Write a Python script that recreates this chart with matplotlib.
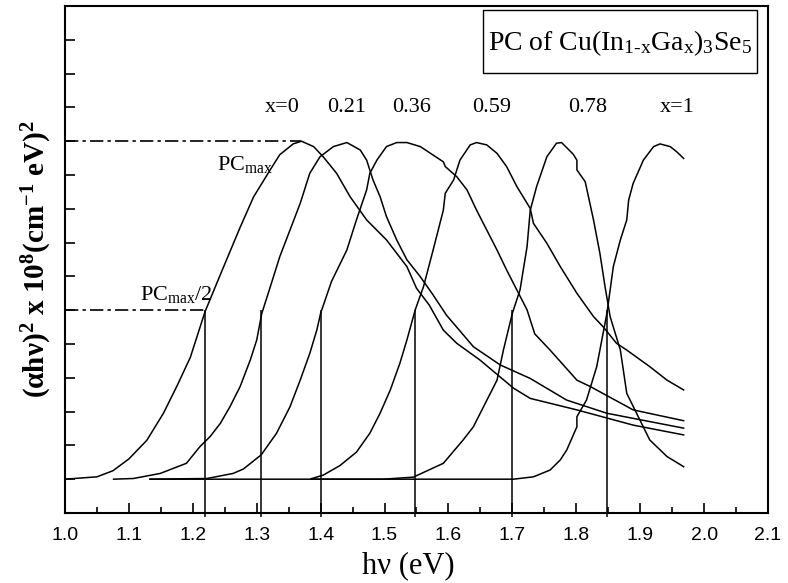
import matplotlib
matplotlib.use('Agg')
import matplotlib.pyplot as plt
from matplotlib.patches import Rectangle
from matplotlib.ticker import MultipleLocator, FormatStrFormatter

# photoconductivity spectra
hv_0 = [1.000, 1.050, 1.075, 1.100, 1.128, 1.154, 1.175, 1.196, 1.219, 1.243, 1.274, 1.295,
        1.321, 1.336, 1.357, 1.370, 1.389, 1.404, 1.425, 1.446, 1.472, 1.503, 1.535, 1.550,
        1.570, 1.592, 1.613, 1.649, 1.702, 1.728, 1.801, 1.889, 1.968]
pc_0 = [1.00, 1.07, 1.25, 1.60, 2.15, 2.95, 3.75, 4.60, 5.95, 7.05, 8.45, 9.35,
        10.15, 10.60, 10.92, 11.00, 10.84, 10.54, 10.05, 9.36, 8.67, 8.08, 7.29, 6.65,
        6.15, 5.41, 5.02, 4.53, 3.69, 3.39, 3.05, 2.60, 2.31]

hv_21 = [1.076, 1.107, 1.149, 1.190, 1.211, 1.227, 1.243, 1.258, 1.274, 1.290, 1.300, 1.308,
         1.318, 1.336, 1.352, 1.368, 1.383, 1.399, 1.420, 1.441, 1.462, 1.472, 1.482, 1.493,
         1.503, 1.519, 1.535, 1.556, 1.576, 1.597, 1.639, 1.681, 1.728, 1.785, 1.848, 1.968]
pc_21 = [1.00, 1.02, 1.17, 1.47, 1.96, 2.26, 2.65, 3.14, 3.74, 4.53, 5.12, 5.91,
         6.50, 7.58, 8.37, 9.16, 10.05, 10.54, 10.84, 10.96, 10.74, 10.44, 9.85, 9.36,
         8.77, 8.08, 7.49, 6.99, 6.45, 5.85, 4.92, 4.38, 3.98, 3.34, 2.95, 2.51]

hv_36 = [1.133, 1.222, 1.263, 1.279, 1.307, 1.331, 1.352, 1.368, 1.383, 1.394, 1.400, 1.417,
         1.441, 1.456, 1.472, 1.477, 1.488, 1.503, 1.519, 1.535, 1.556, 1.576, 1.592, 1.595,
         1.613, 1.629, 1.644, 1.660, 1.676, 1.691, 1.707, 1.723, 1.735, 1.759, 1.801, 1.822,
         1.889, 1.968]
pc_36 = [1.00, 1.02, 1.17, 1.30, 1.72, 2.36, 3.14, 3.93, 4.72, 5.41, 5.91, 6.85,
         7.78, 8.67, 9.56, 10.05, 10.44, 10.84, 10.96, 10.96, 10.84, 10.59, 10.39, 10.25,
         9.95, 9.56, 8.96, 8.37, 7.78, 7.19, 6.60, 6.01, 5.30, 4.82, 3.93, 3.74,
         3.05, 2.73]

hv_59 = [1.133, 1.383, 1.404, 1.430, 1.456, 1.477, 1.493, 1.509, 1.524, 1.535, 1.548, 1.561,
         1.576, 1.592, 1.595, 1.608, 1.618, 1.634, 1.644, 1.660, 1.676, 1.691, 1.707, 1.728,
         1.733, 1.754, 1.775, 1.801, 1.827, 1.842, 1.863, 1.879, 1.915, 1.942, 1.968]
pc_59 = [1.00, 1.00, 1.12, 1.40, 1.80, 2.36, 2.95, 3.64, 4.43, 5.12, 6.01, 6.70,
         7.78, 8.96, 9.46, 9.85, 10.44, 10.89, 10.96, 10.89, 10.64, 10.25, 9.66, 9.01,
         8.57, 7.98, 7.29, 6.50, 5.81, 5.51, 5.02, 4.82, 4.33, 3.93, 3.64]

hv_78 = [1.385, 1.498, 1.545, 1.592, 1.623, 1.639, 1.676, 1.686, 1.700, 1.712, 1.723, 1.728,
         1.738, 1.754, 1.769, 1.777, 1.795, 1.801, 1.801, 1.814, 1.827, 1.837, 1.845, 1.853,
         1.869, 1.879, 1.915, 1.942, 1.968]
pc_78 = [1.00, 1.00, 1.06, 1.47, 2.16, 2.55, 3.93, 4.82, 5.91, 6.60, 7.88, 8.96,
         9.66, 10.54, 10.94, 10.96, 10.62, 10.44, 10.15, 9.80, 8.67, 7.68, 6.70, 5.81,
         4.82, 3.54, 2.16, 1.67, 1.37]

hv_100 = [1.385, 1.702, 1.733, 1.759, 1.775, 1.785, 1.801, 1.801, 1.816, 1.832, 1.848, 1.858,
          1.869, 1.879, 1.882, 1.889, 1.905, 1.921, 1.931, 1.947, 1.957, 1.968]
pc_100 = [1.00, 1.00, 1.07, 1.27, 1.57, 1.86, 2.55, 2.85, 3.34, 4.33, 5.91, 7.29,
          8.08, 8.67, 9.26, 9.75, 10.44, 10.84, 10.92, 10.84, 10.69, 10.49]

comp_labels = ['x=0', '0.21', '0.36', '0.59', '0.78', 'x=1']
label_hv = [1.340, 1.441, 1.543, 1.667, 1.818, 1.958]
label_y = 12.0

# half-maximum energies (band gaps)
half_hv = [1.219, 1.307, 1.400, 1.548, 1.700, 1.848]
pc_max = 11.0
pc_half = 6.0
peak_hv_0 = 1.370

plt.rcParams['mathtext.fontset'] = 'custom'
plt.rcParams['mathtext.rm'] = 'Liberation Serif'
plt.rcParams['mathtext.it'] = 'Liberation Serif:italic'
plt.rcParams['mathtext.bf'] = 'Liberation Serif:bold'
plt.rcParams['axes.linewidth'] = 1.5

fig = plt.figure(figsize=(7.88, 5.83), dpi=100)
ax = fig.add_axes([0.0825, 0.1201, 0.8921, 0.8696])

for hv, pc in [(hv_0, pc_0), (hv_21, pc_21), (hv_36, pc_36),
               (hv_59, pc_59), (hv_78, pc_78), (hv_100, pc_100)]:
    ax.plot(hv, pc, color='black', lw=1.1)

dashdot = (0, (8, 2.5, 2, 2.5))
ax.plot([1.0, peak_hv_0], [pc_max, pc_max], color='black', lw=1.2, ls=dashdot)
ax.plot([1.0, half_hv[0]], [pc_half, pc_half], color='black', lw=1.2, ls=dashdot)
ax.vlines(half_hv, -0.12, pc_half, color='black', lw=1.1, clip_on=False)

for lab, x in zip(comp_labels, label_hv):
    ax.text(x, label_y, lab, ha='center', va='center', fontsize=16,
            family='Liberation Serif')

ax.text(1.117, 6.3, r'PC$_{\mathrm{max}}$/2', fontsize=16, family='Liberation Serif')
ax.text(1.238, 10.15, r'PC$_{\mathrm{max}}$', fontsize=16, family='Liberation Serif')

# title box
ax.add_patch(Rectangle((0.5946, 0.868), 0.390, 0.124, transform=ax.transAxes,
                       facecolor='white', edgecolor='black', lw=1.0))
ax.text(0.789, 0.927, r'PC of Cu(In$_{\text{1-x}}$Ga$_{\mathrm{x}}$)$_{\mathrm{3}}$Se$_{\mathrm{5}}$',
        transform=ax.transAxes, ha='center', va='center', fontsize=20,
        family='Liberation Serif')

ax.set_xlim(1.0, 2.1)
ax.set_ylim(0, 15)
ax.xaxis.set_major_locator(MultipleLocator(0.1))
ax.xaxis.set_minor_locator(MultipleLocator(0.05))
ax.xaxis.set_major_formatter(FormatStrFormatter('%.1f'))
ax.yaxis.set_major_locator(MultipleLocator(1))
ax.tick_params(axis='x', which='major', direction='in', length=7, width=1.2, pad=10, labelsize=14)
ax.tick_params(axis='x', which='minor', direction='in', length=4, width=1.2)
ax.tick_params(axis='y', which='major', direction='in', length=7, width=1.2, labelleft=False)
for t in ax.get_xticklabels():
    t.set_family('Liberation Sans')

ax.set_xlabel('hν (eV)', fontsize=22, family='Liberation Serif')
ax.xaxis.set_label_coords(0.488, -0.075)
ax.set_ylabel(r'($\mathbf{\alpha}$h$\mathbf{\nu}$)$^{\mathbf{2}}$ x 10$^{\mathbf{8}}$(cm$^{\mathbf{-1}}$ eV)$^{\mathbf{2}}$',
              fontsize=21, fontweight='bold', family='Liberation Serif', labelpad=8)

fig.savefig('out.png', dpi=100)
